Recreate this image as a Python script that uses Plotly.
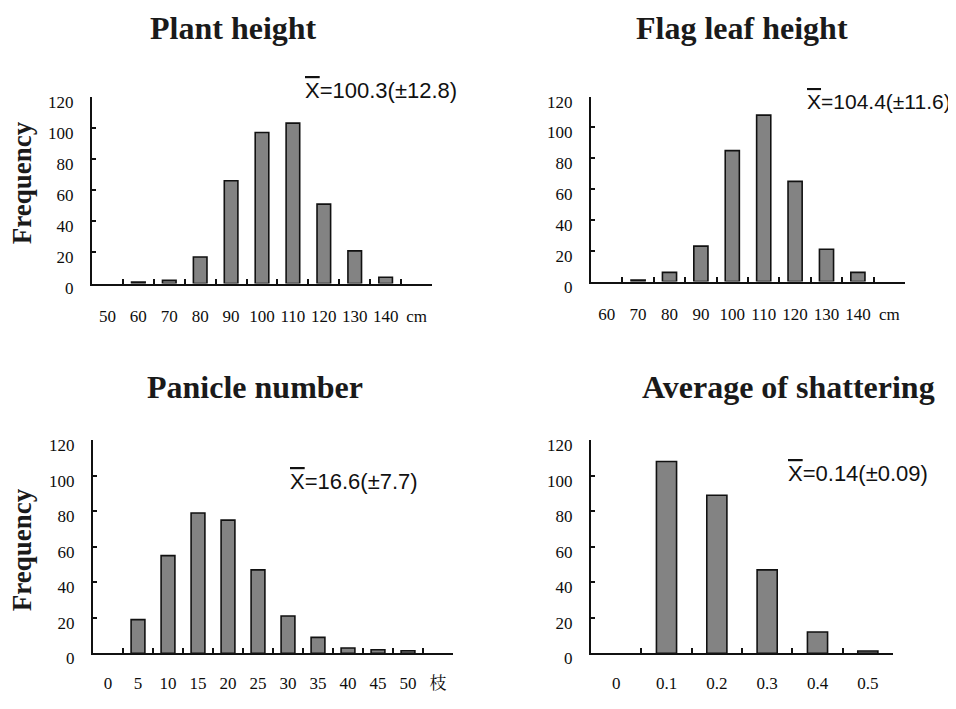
import plotly.graph_objects as go

W, H = 956, 709
PM = 8  # default page (body) margin of the html page, compensated below

# ---- data ----
plant_cats = ["50", "60", "70", "80", "90", "100", "110", "120", "130", "140", "cm"]
plant_vals = [None, 1, 2, 17, 66, 97, 103, 51, 21, 4, None]

flag_cats = ["60", "70", "80", "90", "100", "110", "120", "130", "140", "cm"]
flag_vals = [None, 1, 6, 23, 85, 108, 65, 21, 6, None]

panicle_cats = ["0", "5", "10", "15", "20", "25", "30", "35", "40", "45", "50", "枝"]
panicle_vals = [None, 19, 55, 79, 75, 47, 21, 9, 3, 2, 1.5, None]

shatter_cats = ["0", "0.1", "0.2", "0.3", "0.4", "0.5"]
shatter_vals = [None, 108, 89, 47, 12, 1.3]

titles = ["Plant height", "Flag leaf height", "Panicle number", "Average of shattering"]
stats = ["100.3(±12.8)", "104.4(±11.6)", "16.6(±7.7)", "0.14(±0.09)"]
y_ticks = [0, 20, 40, 60, 80, 100, 120]

# ---- layout geometry (pixels in the reference) ----
panels = [
    dict(cats=plant_cats, vals=plant_vals, x0=92, x1=432, ytop=95, ybot=287, gap=0.56, sto=16),
    dict(cats=flag_cats, vals=flag_vals, x0=591, x1=905, ytop=95, ybot=285, gap=0.55, sto=16),
    dict(cats=panicle_cats, vals=panicle_vals, x0=93, x1=453, ytop=448, ybot=667, gap=0.54, sto=13),
    dict(cats=shatter_cats, vals=shatter_vals, x0=591, x1=893, ytop=448, ybot=667, gap=0.6, sto=13),
]
title_pos = [(233, 24), (742, 24), (255, 393), (788, 393)]
stat_pos = [(303, 89), (805, 100), (288, 490), (786, 482)]
stat_size = [22, 21, 22, 22]
freq_pos = [(22, 184), (22, 561)]


def px_x(x):
    return (x - PM) / W


def px_y(y):
    return 1 - (y - PM) / H


tick_font = dict(family="Liberation Serif, 'Noto Serif CJK SC', 'Noto Sans CJK SC', serif", size=17, color="#0d0d0d")

fig = go.Figure()
layout = dict(
    width=W, height=H,
    margin=dict(l=0, r=0, t=0, b=0),
    paper_bgcolor="white", plot_bgcolor="white",
    showlegend=False,
)

annotations = []
for i, p in enumerate(panels):
    n = i + 1
    xa = "x" if n == 1 else f"x{n}"
    ya = "y" if n == 1 else f"y{n}"
    fig.add_trace(go.Bar(
        x=p["cats"], y=p["vals"], xaxis=xa, yaxis=ya,
        marker=dict(color="#838383", line=dict(color="#111", width=1.6)),
        width=1 - p["gap"],
    ))
    xkey = "xaxis" if n == 1 else f"xaxis{n}"
    ykey = "yaxis" if n == 1 else f"yaxis{n}"
    layout[xkey] = dict(
        domain=[px_x(p["x0"]), px_x(p["x1"])],
        anchor=ya,
        type="category",
        range=[-0.5, len(p["cats"]) - 0.5],
        showline=True, linecolor="#111", linewidth=2,
        ticks="inside", ticklen=5, tickwidth=1.5, tickcolor="#111",
        tickson="boundaries",
        tickangle=0,
        showgrid=False, zeroline=False,
        tickfont=tick_font,
        ticklabelstandoff=p["sto"],
        fixedrange=True,
    )
    layout[ykey] = dict(
        domain=[px_y(p["ybot"]), px_y(p["ytop"])],
        anchor=xa,
        range=[0, 120],
        tickvals=y_ticks,
        showline=True, linecolor="#111", linewidth=2,
        ticks="inside", ticklen=4, tickwidth=1.5, tickcolor="#111",
        showgrid=False, zeroline=False,
        tickfont=tick_font,
        ticklabelstandoff=13,
        ticklabelshift=5,
        fixedrange=True,
    )
    tx, ty = title_pos[i]
    annotations.append(dict(
        text=f"<b>{titles[i]}</b>", x=px_x(tx), y=px_y(ty),
        xref="paper", yref="paper", xanchor="center", yanchor="middle",
        showarrow=False,
        font=dict(family="Liberation Serif, 'Times New Roman', serif", size=32, color="#1a1a1a"),
    ))
    sx, sy = stat_pos[i]
    annotations.append(dict(
        text="<span style='text-decoration:overline'>X</span>=" + stats[i],
        x=px_x(sx), y=px_y(sy),
        xref="paper", yref="paper", xanchor="left", yanchor="middle",
        showarrow=False,
        font=dict(family="Liberation Sans, Arial, sans-serif", size=stat_size[i], color="#111"),
    ))

for fx, fy in freq_pos:
    annotations.append(dict(
        text="<b>Frequency</b>", x=px_x(fx), y=px_y(fy),
        xref="paper", yref="paper", xanchor="center", yanchor="middle",
        textangle=-90, showarrow=False,
        font=dict(family="Liberation Serif, 'Times New Roman', serif", size=27, color="#1a1a1a"),
    ))

layout["annotations"] = annotations
fig.update_layout(**layout)
fig.write_html("out.html")
